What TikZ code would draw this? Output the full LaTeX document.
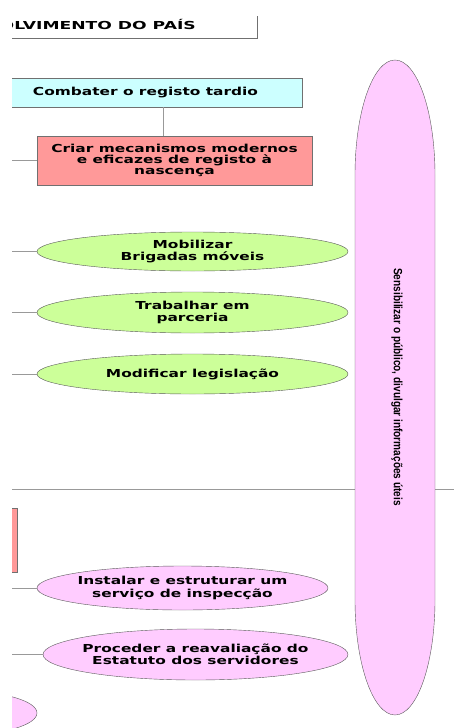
\documentclass[tikz,border=0pt]{standalone}
\usepackage{fontspec}
\setmainfont{DejaVu Sans}
\newfontfamily\caixafont[FakeStretch=1.4]{DejaVu Sans Bold}
\newfontfamily\titulofont[FakeStretch=1.56]{DejaVu Sans Bold}
\newfontfamily\faixafont[FakeStretch=0.84]{Liberation Sans Bold}
\definecolor{ciano}{HTML}{CCFFFF}
\definecolor{salmao}{HTML}{FF9999}
\definecolor{verde}{HTML}{CCFF99}
\definecolor{rosa}{HTML}{FFCCFF}
\definecolor{contorno}{HTML}{707070}
\definecolor{linha}{HTML}{999999}
\tikzset{
	caixa/.style={draw=contorno, align=center, inner sep=0pt,
		font=\caixafont\fontsize{11}{12.5}\selectfont},
	oval/.style={caixa, ellipse, draw=contorno!80!black, inner xsep=-40pt},
	ligacao/.style={draw=linha, line width=0.6pt}
}
\usetikzlibrary{shapes.geometric}
\begin{document}
\begin{tikzpicture}[x=1pt,y=-1pt]
	\useasboundingbox (0,0) rectangle (454,728);
	\clip (12,16) rectangle (454,728);
	\coordinate (margem) at (0,0);
	\coordinate (eixo) at (163,0);

	% topo
	\draw[contorno] (0,10) rectangle (257,38);
	\node[caixa, draw=none, anchor=east, font=\titulofont\fontsize{11}{12.5}\selectfont] (pais) at (196,24) {OLVIMENTO DO PAÍS};

	% registo tardio
	\node[caixa, fill=ciano, minimum width=313, minimum height=29] (combater) at (145.5,92.5) {Combater o registo tardio};
	\node[caixa, fill=salmao, minimum width=275, minimum height=49,
		font=\caixafont\fontsize{11}{11}\selectfont] (criar) at (174.5,160.5)
		{Criar mecanismos modernos\\e eficazes de registo à\\nascença};
	\draw[ligacao] (combater.south -| eixo) -- (criar.north -| eixo);
	\draw[ligacao] (criar.west -| margem) -- (criar.west);

	\node[oval, fill=verde, minimum width=311, minimum height=39] (mobilizar) at (192.5,251.5) {Mobilizar\\Brigadas móveis};
	\node[oval, fill=verde, minimum width=311, minimum height=41] (trabalhar) at (192.5,312.5) {Trabalhar em\\parceria};
	\node[oval, fill=verde, minimum width=311, minimum height=40] (modificar) at (192.5,374) {Modificar legislação};

	% segunda parte
	\draw[ligacao] (0,489) -- (454,489);
	\draw[contorno, fill=salmao] (-50,508) rectangle (17,572);
	\node[oval, fill=rosa, minimum width=291, minimum height=44] (instalar) at (182.5,588) {Instalar e estruturar um\\serviço de inspecção};
	\node[oval, fill=rosa, minimum width=305, minimum height=51] (proceder) at (195.5,654.5) {Proceder a reavaliação do\\Estatuto dos servidores};
	\node[oval, fill=rosa, minimum width=154, minimum height=44] (resto) at (-40,713) {};

	\foreach \n in {mobilizar, trabalhar, modificar, instalar, proceder}
		\draw[ligacao] (\n.west -| margem) -- (\n.west);

	% faixa vertical
	\draw[draw=contorno!80!black, fill=rosa] (355,175) arc[start angle=180, end angle=0, x radius=40pt, y radius=115pt]
		-- (435,600) arc[start angle=0, end angle=-180, x radius=40pt, y radius=115pt] -- cycle;
	\node[rotate=-90, font=\faixafont\fontsize{12}{14}\selectfont] (sensibilizar) at (397,387)
		{Sensibilizar o público, divulgar informações úteis};
\end{tikzpicture}
\end{document}
